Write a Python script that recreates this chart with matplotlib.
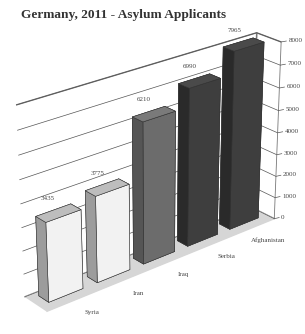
import matplotlib
matplotlib.use("Agg")
import matplotlib.pyplot as plt
import numpy as np
from mpl_toolkits.mplot3d import proj3d

categories = ["Syria", "Iran", "Iraq", "Serbia", "Afghanistan"]
values = [3435, 3775, 6210, 6990, 7965]
value_labels = ["3435", "3775", "6210", "6990", "7965"]
z_ticks = [0, 1000, 2000, 3000, 4000, 5000, 6000, 7000, 8000]

front = ["#f2f2f2", "#f2f2f2", "#6c6c6c", "#3e3e3e", "#3e3e3e"]
left = ["#9c9c9c", "#9c9c9c", "#555555", "#2a2a2a", "#2a2a2a"]
top = ["#bdbdbd", "#bdbdbd", "#7a7a7a", "#4a4a4a", "#4a4a4a"]

plt.rcParams['font.family'] = ['Liberation Serif', 'DejaVu Serif']

fig = plt.figure(figsize=(3.05, 3.34), dpi=100)
ax = fig.add_axes([-0.09, -0.073, 1.17, 1.12], projection='3d')
ax.set_proj_type('persp', focal_length=0.75)
ax.view_init(elev=25, azim=-130)
ax.set_box_aspect((8.4, 1.0, 5.6))

n = len(categories)
xs = np.arange(n)
dx, dy = 0.7, 0.45
cols = []
for i in range(n):
    cols += ["#888888", top[i], front[i], front[i], left[i], left[i]]
ax.bar3d(xs - dx / 2, np.full(n, 0.35), np.zeros(n), dx, dy, values,
         color=cols, shade=False, edgecolor="#333333", linewidth=0.4)

xmax = n - 0.45
ax.set_xlim(-0.55, xmax)
ax.set_ylim(0, 1)
ax.set_zlim(0, 8000)
ax.set_xticks([])
ax.set_yticks([])
ax.set_zticks(z_ticks)
ax.zaxis.set_major_formatter(plt.NullFormatter())

for axis in (ax.xaxis, ax.yaxis, ax.zaxis):
    axis.set_pane_color((1, 1, 1, 1))
    axis.pane.set_edgecolor("#777777")
    axis._axinfo['grid']['color'] = "#555555"
    axis._axinfo['grid']['linewidth'] = 0.5
    axis._axinfo['tick']['inward_factor'] = 0
    axis._axinfo['tick']['outward_factor'] = 0
ax.zaxis.set_pane_color((0.84, 0.84, 0.84, 1))
ax.xaxis.line.set_color((0, 0, 0, 0))
ax.yaxis.line.set_color((0, 0, 0, 0))
ax.zaxis.line.set_color((0, 0, 0, 0))

# value axis on the right front edge
ax.plot([xmax, xmax], [0, 0], [0, 8000], color="#777777", lw=0.6)
for t in z_ticks:
    ax.plot([xmax, xmax + 0.1], [0, -0.04], [t, t], color="#555555", lw=0.5)

fig.canvas.draw()
M = ax.get_proj()


def label(x, y, z, s, **kw):
    px, py, _ = proj3d.proj_transform(x, y, z, M)
    ax.text2D(px, py, s, transform=ax.transData, fontsize=5,
              color="#444444", **kw)


for t in z_ticks:
    label(xmax + 0.14, -0.06, t, str(t), ha="left", va="center")

for i in range(n):
    label(xs[i] - 0.1, 0.8, values[i] + 450, value_labels[i],
          ha="center", va="bottom", zorder=10)
    label(xs[i] + 0.22, -0.3, -450, categories[i], ha="center", va="top")

fig.text(0.07, 0.955, "Germany, 2011 - Asylum Applicants", fontsize=9.6,
         fontweight="bold", color="#333333", ha="left", va="center")

fig.savefig("out.png", dpi=100)
